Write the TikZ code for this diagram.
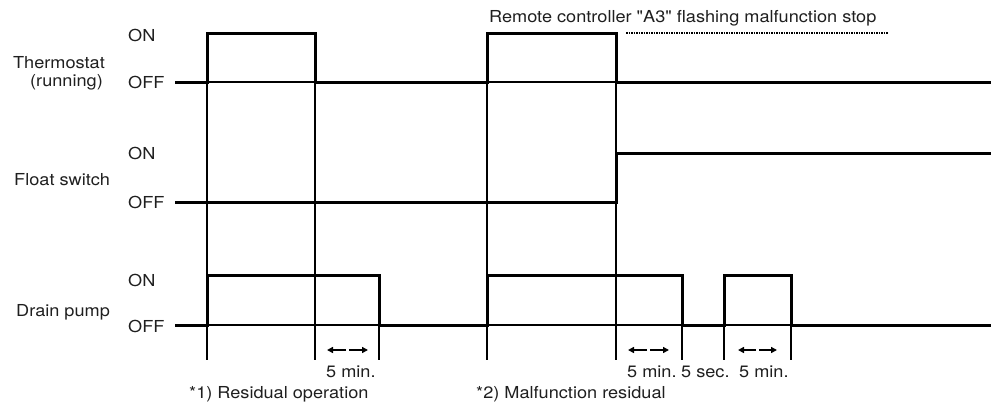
\documentclass[tikz,border=0pt]{standalone}
\usepackage{fontspec}
\setmainfont{TeX Gyre Heros}[FakeStretch=1.1, Ligatures=TeXOff]
\usetikzlibrary{arrows.meta}
\begin{document}
\begin{tikzpicture}[x=1pt,y=-1pt,
  sig/.style={line width=3pt, line join=miter, line cap=butt},
  guide/.style={line width=1.2pt},
  baseln/.style={line width=1.2pt},
  lbl/.style={inner sep=0pt, font=\fontsize{16.5}{19}\selectfont, text=black!88},
  dur/.style={line width=1.8pt, -{Triangle[length=6pt,width=6pt]}},
  dotln/.style={line width=1.3pt, dash pattern=on 1.5pt off 1pt},
]
\useasboundingbox (0,0) rectangle (991,408);

% ---- left labels ----
\node[lbl, anchor=base east] (th1) at (105,68) {Thermostat};
\node[lbl, anchor=base east] (th2) at (103,86) {(running)};
\node[lbl, anchor=base west] (thon) at (128,41) {ON};
\node[lbl, anchor=base west] (thoff) at (128,88) {OFF};

\node[lbl, anchor=base west] (fs) at (14,185.5) {Float switch};
\node[lbl, anchor=base west] (fson) at (128,159) {ON};
\node[lbl, anchor=base west] (fsoff) at (128,208) {OFF};

\node[lbl, anchor=base west] (dp) at (16,316) {Drain pump};
\node[lbl, anchor=base west] (dpon) at (128,286) {ON};
\node[lbl, anchor=base west] (dpoff) at (128,332) {OFF};

% ---- top annotation ----
\node[lbl, anchor=base west] (remote) at (489,22.3) {Remote controller "A3" flashing malfunction stop};
\draw[dotln] (626,33) -- (888,33);

% ---- guide lines ----
\foreach \x in {207,315,487,616} \draw[guide] (\x,33) -- (\x,360);
\foreach \x in {379,682,724,791} \draw[guide] (\x,275) -- (\x,360);

% ---- thin baselines inside pulses ----
\draw[baseln] (207,82) -- (315,82);
\draw[baseln] (487,82) -- (616,82);
\draw[baseln] (207,325) -- (379,325);
\draw[baseln] (487,325) -- (682,325);
\draw[baseln] (724,325) -- (791,325);

% ---- signals ----
\draw[sig] (175,82) -- (207,82) -- (207,33) -- (315,33) -- (315,82) -- (487,82)
  -- (487,33) -- (616,33) -- (616,82) -- (991,82);
\draw[sig] (175,202) -- (616,202) -- (616,153) -- (991,153);
\draw[sig] (175,325) -- (207,325) -- (207,275) -- (379,275) -- (379,325) -- (487,325)
  -- (487,275) -- (682,275) -- (682,325) -- (724,325) -- (724,275) -- (791,275)
  -- (791,325) -- (991,325);

% ---- duration arrows ----
\draw[dur] (346,350) -- (327,350);
\draw[dur] (349,350) -- (368,350);
\draw[dur] (647,350) -- (628,350);
\draw[dur] (650,350) -- (669,350);
\draw[dur] (756,350) -- (738,350);
\draw[dur] (759,350) -- (777,350);

% ---- bottom labels ----
\node[lbl, anchor=base west] (m1) at (326,377) {5 min.};
\node[lbl, anchor=base west] (m2) at (627,377) {5 min.};
\node[lbl, anchor=base west] (s1) at (681,377) {5 sec.};
\node[lbl, anchor=base west] (m3) at (739,377) {5 min.};
\node[lbl, anchor=base west] (r1) at (189,398) {*1) Residual operation};
\node[lbl, anchor=base west] (r2) at (476,398) {*2) Malfunction residual};
\end{tikzpicture}
\end{document}
